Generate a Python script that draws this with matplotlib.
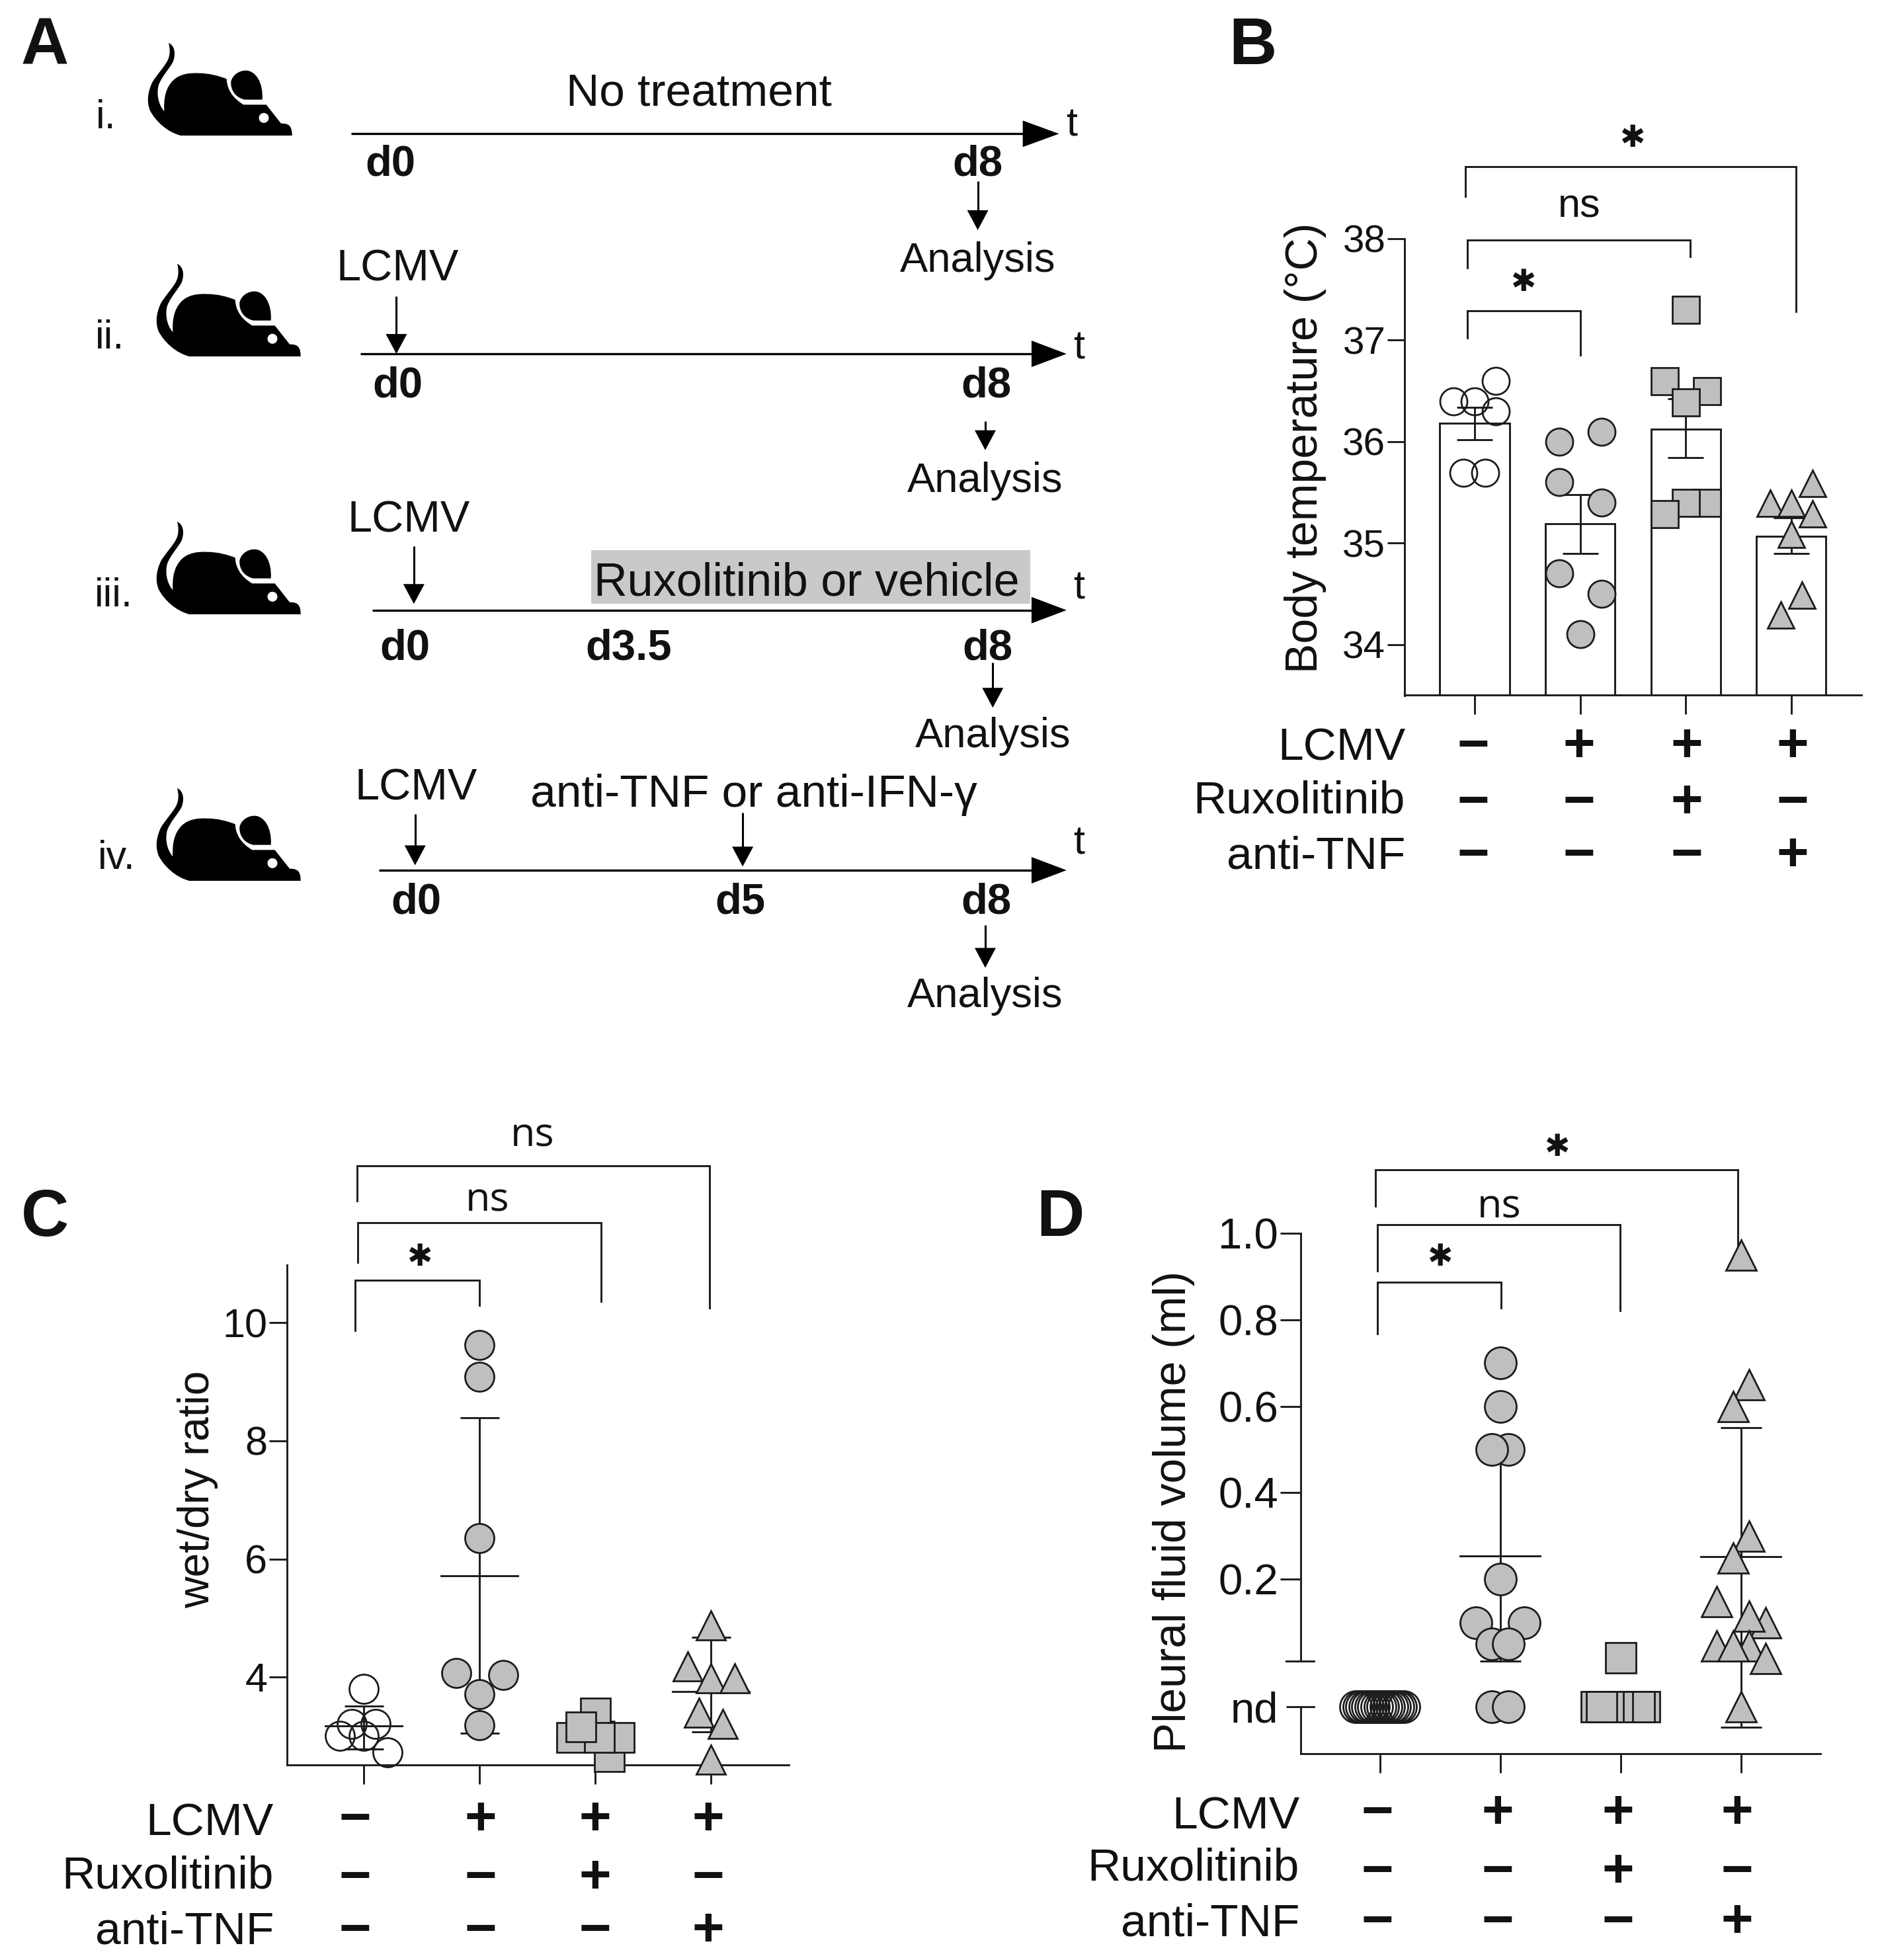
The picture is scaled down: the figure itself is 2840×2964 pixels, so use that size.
import matplotlib
matplotlib.use("Agg")
import matplotlib.pyplot as plt
from matplotlib.patches import PathPatch, Rectangle, Circle
from matplotlib.path import Path
import numpy as np

plt.rcParams['font.family'] = ['Liberation Sans', 'DejaVu Sans']

W, H = 2840, 2964
S = 2840 / 1502  # schematic positions
GRAY = '#bfbfbf'
INK = '#1c1c1c'
ND = -0.095

signs_lcmv = ['−', '+', '+', '+']
signs_rux = ['−', '−', '+', '−']
signs_tnf = ['−', '−', '−', '+']
row_names = ['LCMV', 'Ruxolitinib', 'anti-TNF']

# panel B
b_ticks = [34, 35, 36, 37, 38]
b_means = [36.18, 35.19, 36.12, 35.07]
b_err_hi = [36.34, 35.48, 36.42, 35.25]
b_err_lo = [36.02, 34.90, 35.84, 34.90]
b_x0 = [-0.2, 0, 0.2, 0.2, -0.105, 0.1]
b_y0 = [36.4, 36.4, 36.6, 36.3, 35.69, 35.69]
b_x1 = [-0.2, 0.2, -0.2, 0.2, -0.2, 0.2, 0]
b_y1 = [36.0, 36.1, 35.6, 35.4, 34.7, 34.5, 34.1]
b_x2 = [0, -0.2, 0.2, 0, 0.2, 0, -0.2]
b_y2 = [37.3, 36.6, 36.5, 36.39, 35.4, 35.4, 35.29]
b_x3 = [-0.2, 0, 0.2, 0.2, 0, -0.1, 0.1]
b_y3 = [35.39, 35.39, 35.59, 35.29, 35.09, 34.29, 34.49]

# panel C
c_ticks = [4, 6, 8, 10]
c_means = [3.17, 5.72, 3.0, 3.75]
c_err_hi = [3.51, 8.39, 3.25, 4.67]
c_err_lo = [2.78, 3.05, 2.75, 3.07]
c_x0 = [0, -0.105, 0.1, -0.207, 0, 0.203]
c_y0 = [3.8, 3.2, 3.2, 3.0, 3.0, 2.72]
c_x1 = [0, 0, 0, -0.2, 0.203, 0, 0]
c_y1 = [9.62, 9.09, 6.35, 4.07, 4.03, 3.71, 3.18]
c_x2 = [0, 0.118, -0.203, 0.207, 0.033, -0.128]
c_y2 = [3.4, 2.66, 2.98, 2.98, 2.98, 3.16]
c_x3 = [0, -0.2, 0, 0.203, -0.102, 0.102, 0]
c_y3 = [4.87, 4.18, 3.98, 3.98, 3.4, 3.21, 2.6]

# panel D
d_ticks = [0.2, 0.4, 0.6, 0.8, 1.0]
d_means = [0.254, 0.253]
d_err_hi = [0.50, 0.55]
d_err_lo = [0.01, -0.142]
d_x0 = [-0.2, -0.175, -0.15, -0.125, -0.1, -0.075, -0.05, -0.025, 0, 0.025, 0.05, 0.075, 0.1, 0.125, 0.15, 0.175, 0.2]
d_y0 = [ND] * 17
d_x1 = [0, 0, 0.066, -0.066, 0, -0.2, 0.2, -0.066, 0.066, -0.066, 0.066]
d_y1 = [0.70, 0.60, 0.50, 0.50, 0.20, 0.10, 0.10, 0.05, 0.05, ND, ND]
d_x2 = [0, 0.203, 0.159, -0.203, -0.027, -0.099, -0.159]
d_y2 = [0.018, ND, ND, ND, ND, ND, ND]
d_x3 = [0, 0.07, -0.063, 0.07, -0.063, -0.2, 0.208, 0.07, -0.2, 0.07, -0.063, 0.208, 0]
d_y3 = [0.95, 0.65, 0.60, 0.30, 0.25, 0.148, 0.10, 0.115, 0.046, 0.046, 0.046, 0.017, ND]

# (x0, x1, top, left end, right end, label, label x, label y) in pixels
b_brackets = [(2219, 2390, 470, 511, 537, '*', 2303, 427),
              (2219, 2556, 363, 405, 388, 'ns', 2388, 308),
              (2216, 2716, 252, 297, 471, '*', 2468, 210)]
c_brackets = [(537, 725, 1936, 2012, 1974, '*', 634, 1902),
              (541, 909, 1849, 1909, 1968, 'ns', 737, 1810),
              (540, 1073, 1763, 1816, 1978, 'ns', 805, 1713)]
d_brackets = [(2083, 2270, 1939, 2017, 1978, '*', 2177, 1902),
              (2083, 2450, 1852, 1922, 1982, 'ns', 2267, 1820),
              (2080, 2628, 1769, 1824, 1914, '*', 2354, 1736)]

fig = plt.figure(figsize=(W / 100, H / 100), dpi=100)
ov = fig.add_axes([0, 0, 1, 1])
ov.set_xlim(0, W)
ov.set_ylim(H, 0)
ov.axis('off')


def px_axes(left, right, top, bottom):
    return fig.add_axes([left / W, 1 - bottom / H, (right - left) / W, (bottom - top) / H], facecolor='none')


def txt(x, y, s, size=46, **kw):
    kw.setdefault('ha', 'center')
    kw.setdefault('va', 'center')
    ov.text(x, y + 5, s, fontsize=size, color='#111111', **kw)


def timeline(x0, x1, y, tip):
    ov.plot([x0, x1], [y, y], color='k', lw=2.4, solid_capstyle='butt')
    ov.fill([x1, tip, x1], [y - 20, y, y + 20], color='k', lw=0)


def down_arrow(x, y0, y1):
    ov.plot([x, x], [y0, y1 - 20], color='k', lw=2.2, solid_capstyle='butt')
    ov.fill([x - 16, x + 16, x], [y1 - 30, y1 - 30, y1], color='k', lw=0)


def mouse(dx, dy):
    # outline read from the first mouse, crop units of 3 per pixel
    L, C = Path.LINETO, Path.CURVE4
    verts = [(105, 15), (130, 25), (140, 60), (125, 100), (110, 130), (75, 165), (60, 205),
             (50, 240), (55, 290), (85, 325), (82, 270), (90, 220), (125, 185),
             (155, 155), (200, 150), (240, 152), (290, 152), (335, 165), (368, 178),
             (370, 225), (395, 265), (445, 295), (548, 295), (615, 380),
             (650, 380), (665, 390), (665, 435), (160, 435),
             (100, 420), (45, 370), (20, 320), (5, 280), (10, 240), (30, 195),
             (50, 160), (85, 125), (100, 95), (115, 65), (110, 35), (105, 15)]
    codes = [Path.MOVETO] + [C] * 18 + [C, C, C, L, L] + [C, C, C, L] + [C] * 12
    ear = [(455, 140), (500, 140), (535, 195), (530, 272), (450, 272),
           (405, 262), (385, 225), (388, 190), (395, 160), (425, 140), (455, 140)]
    ear_codes = [Path.MOVETO, C, C, C, L, C, C, C, C, C, C]
    for v, c in ((verts, codes), (ear, ear_codes)):
        pts = [(220 + x / 3 + dx, 60 + y / 3 + dy) for x, y in v]
        ov.add_patch(PathPatch(Path(pts, c), fc='k', ec='none'))
    ov.add_patch(Circle((220 + 537 / 3 + dx, 60 + 355 / 3 + dy), 7.5, fc='white', ec='none'))


# panel A
for dx, dy in [(0, 0), (13, 334), (13, 724), (13, 1127)]:
    mouse(dx, dy)
for x, y, s in [(85, 92, 'i.'), (88, 268, 'ii.'), (91, 474, 'iii.'), (93, 684, 'iv.')]:
    txt(x * S, y * S, s, size=44)
timeline(281 * S, 818 * S, 107 * S, 847 * S)
timeline(288 * S, 825 * S, 283 * S, 853 * S)
ov.add_patch(Rectangle((473 * S, 440 * S), 351 * S, 43 * S, fc='#c9c9c9', ec='none'))
timeline(298 * S, 825 * S, 488 * S, 853 * S)
timeline(303 * S, 825 * S, 696 * S, 853 * S)
for x, y in [(857, 98), (863, 276), (863, 468), (863, 672)]:
    txt(x * S, y * S, 't', size=44)
txt(559 * S, 72 * S, 'No treatment', size=50)
txt(645 * S, 464 * S, 'Ruxolitinib or vehicle', size=50.5)
txt(603 * S, 633 * S, 'anti-TNF or anti-IFN-γ', size=50)
for x, y in [(318, 213), (327, 414), (333, 628)]:
    txt(x * S, y * S, 'LCMV', size=48)
for x, y in [(782, 206), (788, 382), (794, 586), (788, 794)]:
    txt(x * S, y * S, 'Analysis', size=45.5)
for x, y, s in [(312, 129, 'd0'), (782, 129, 'd8'), (318, 306, 'd0'), (789, 306, 'd8'),
                (324, 516, 'd0'), (503, 516, 'd3.5'), (790, 516, 'd8'),
                (333, 719, 'd0'), (592, 719, 'd5'), (789, 719, 'd8')]:
    txt(x * S, y * S, s, size=47, fontweight='bold')
for x, y0, y1 in [(782, 145, 184), (788, 337, 360), (794, 530, 566), (788, 740, 774),
                  (317, 237, 283), (331, 437, 483), (332, 651, 692), (594, 650, 693)]:
    down_arrow(x * S, y0 * S, y1 * S)

for x, y, s in [(36, 35, 'A'), (1002, 35, 'B'), (36, 972, 'C'), (848, 972, 'D')]:
    txt(x * S, y * S, s, size=72, fontweight='bold')


def style_axes(ax, ticks, labels=None, tick_px=27, label_size=42):
    for side in ('top', 'right'):
        ax.spines[side].set_visible(False)
    for side in ('left', 'bottom'):
        ax.spines[side].set_linewidth(2.1)
        ax.spines[side].set_color(INK)
    ax.set_xticks(range(4))
    ax.set_xticklabels([])
    ax.set_yticks(ticks)
    if labels:
        ax.set_yticklabels(labels)
    ax.tick_params(axis='y', length=tick_px * 0.72, width=2.1, labelsize=label_size, pad=2, color=INK,
                   labelcolor='#111111')
    ax.tick_params(axis='x', length=29 * 0.72, width=2.1, color=INK)


def points(ax, center, xs, ys, marker, size, filled=True):
    ax.plot(np.array(xs) + center, ys, linestyle='none', marker=marker, ms=size * 0.72,
            mfc=GRAY if filled else 'none', mec=INK, mew=2.0, clip_on=False, zorder=4)


def draw_each(ax, center, xs, ys, marker, size):
    # one by one so that the overlap order stays as in the figure
    for i, (x, y) in enumerate(zip(xs, ys)):
        ax.plot(center + x, y, linestyle='none', marker=marker, ms=size * 0.72, mfc=GRAY, mec=INK,
                mew=2.0, clip_on=False, zorder=4 + i * 0.01)


def error(ax, x, mean, hi, lo, cap_px, mean_half=None):
    ax.errorbar([x], [mean], yerr=[[mean - lo], [hi - mean]], color=INK, elinewidth=2.1, capthick=2.1,
                capsize=cap_px / 2 * 0.72, fmt='none', clip_on=False, zorder=3)
    if mean_half:
        ax.plot([x - mean_half, x + mean_half], [mean, mean], color=INK, lw=2.1, clip_on=False, zorder=3)


def brackets(items, ns_font='Liberation Sans'):
    for x0, x1, top, e0, e1, s, lx, ly in items:
        ov.plot([x0, x0, x1, x1], [e0, top, top, e1], color=INK, lw=2.1, solid_joinstyle='miter')
        if s == '*':
            txt(lx, ly - 5, '✱', size=33, family='DejaVu Sans', fontweight='bold')
        else:
            txt(lx, ly, s, size=44, family=ns_font)


def sign_table(ax, name_x, name_ys, sign_ys, nudge=(0, 0, 0, 0)):
    for name, ny, sy, signs in zip(row_names, name_ys, sign_ys, (signs_lcmv, signs_rux, signs_tnf)):
        txt(name_x, ny, name, size=50, ha='right')
        for i, s in enumerate(signs):
            xp = ax.transData.transform((i, 0))[0] + nudge[i]
            txt(xp, sy, s, size=60, fontweight='bold')


# panel B
ax = px_axes(2124, 2815, 361, 1051.5)
ax.set_xlim((2124 - 2230) / 159.6, (2815 - 2230) / 159.6)
ax.set_ylim(33.5, 38)
style_axes(ax, b_ticks, tick_px=26)
ax.bar(range(4), b_means, width=0.658, color='white', edgecolor=INK, linewidth=2.1, zorder=2)
for i in range(4):
    error(ax, i, b_means[i], b_err_hi[i], b_err_lo[i], 54)
points(ax, 0, b_x0, b_y0, 'o', 41, filled=False)
points(ax, 1, b_x1, b_y1, 'o', 41)
draw_each(ax, 2, b_x2, b_y2, 's', 41)
draw_each(ax, 3, b_x3, b_y3, '^', 40)
ov.text(1044 * S, 358 * S, 'Body temperature (°C)', rotation=90, fontsize=49, ha='center', va='center', color='#111111')
brackets(b_brackets)
sign_table(ax, 2125, [1127, 1206, 1290], [1125, 1210, 1290], nudge=(-2, -2, 2, 2))

# panel C
ax = px_axes(434, 1193, 1913, 2669)
ax.set_xlim((434 - 550) / 175, (1193 - 550) / 175)
ax.set_ylim(4 - (2669 - 2536) / 89.3, 10 + (2000.5 - 1913) / 89.3)
style_axes(ax, c_ticks, label_size=44)
for i in range(4):
    error(ax, i, c_means[i], c_err_hi[i], c_err_lo[i], 59, 0.33)
points(ax, 0, c_x0, c_y0, 'o', 44, filled=False)
draw_each(ax, 1, c_x1, c_y1, 'o', 44)
draw_each(ax, 2, c_x2, c_y2, 's', 45)
draw_each(ax, 3, c_x3, c_y3, '^', 44)
ov.text(158 * S, 1191 * S, 'wet/dry ratio', rotation=90, fontsize=47.5, ha='center', va='center', color='#111111')
brackets(c_brackets, ns_font='Open Sans')
sign_table(ax, 414, [2753, 2833, 2916], [2748, 2836, 2916], nudge=(-13, 2, 0, -4))

# panel D
ax = px_axes(1967, 2753, 1865, 2652)
ax.set_xlim((1967 - 2086.5) / 182, (2753 - 2086.5) / 182)
ax.set_ylim(-(2652 - 2519) / 654, 1.0)
style_axes(ax, [ND] + d_ticks, ['nd', '0.2', '0.4', '0.6', '0.8', '1.0'], tick_px=31, label_size=47)
ax.yaxis.get_major_ticks()[0].tick1line.set_markersize(22 * 0.72)
ax.spines['left'].set_bounds(0.01, 1.0)
xl = ax.get_xlim()[0]
ax.plot([xl, xl], [ax.get_ylim()[0], ND], color=INK, lw=2.1, clip_on=False)
ax.plot([xl, xl + 0.11], [ND, ND], color=INK, lw=2.1, clip_on=False)
ax.plot([xl - 0.12, xl + 0.11], [0.01, 0.01], color=INK, lw=2.1, clip_on=False)
error(ax, 1, d_means[0], d_err_hi[0], d_err_lo[0], 62, 0.33)
error(ax, 3, d_means[1], d_err_hi[1], d_err_lo[1], 62, 0.33)
points(ax, 0, d_x0, d_y0, 'o', 48, filled=False)
draw_each(ax, 1, d_x1, d_y1, 'o', 48)
draw_each(ax, 2, d_x2, d_y2, 's', 46)
draw_each(ax, 3, d_x3, d_y3, '^', 46)
ov.text(939 * S, 1209 * S, 'Pleural fluid volume (ml)', rotation=90, fontsize=48.8, ha='center', va='center', color='#111111')
brackets(d_brackets, ns_font='Open Sans')
sign_table(ax, 1965, [2742, 2821, 2905], [2738, 2827, 2903], nudge=(-4, -4, -4, -6))

fig.savefig('out.png', dpi=100)
